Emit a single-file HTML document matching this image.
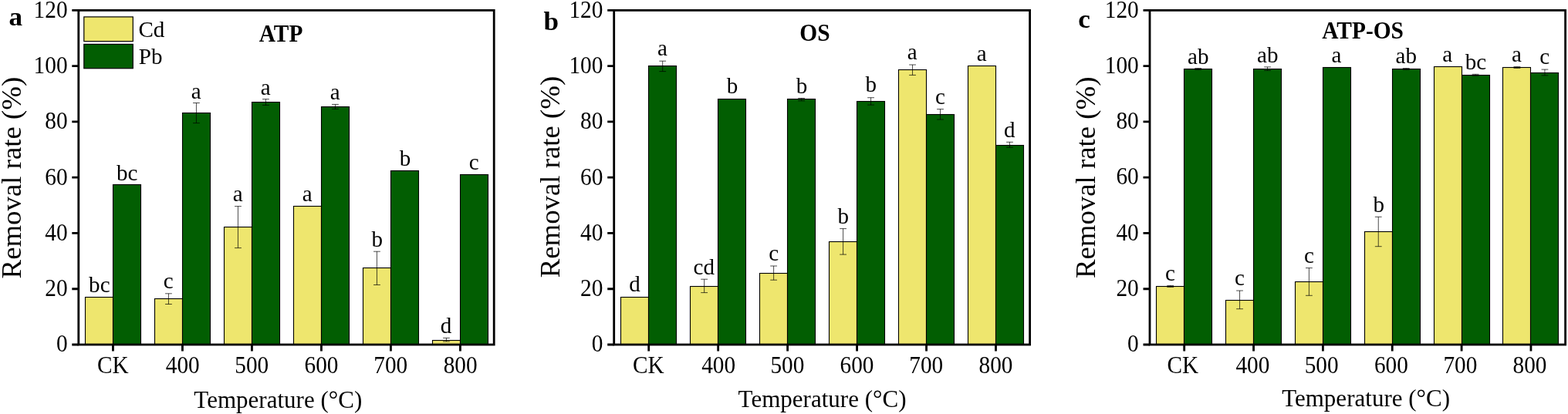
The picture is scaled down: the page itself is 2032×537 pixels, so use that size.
<!DOCTYPE html><html><head><meta charset="utf-8"><title>Removal rate of Cd and Pb</title><style>html,body{margin:0;padding:0;background:#fff;overflow:hidden;}svg{display:block;}text{font-family:'Liberation Serif','Times New Roman',serif;fill:#000;}</style></head><body>
<svg width="2032" height="537" viewBox="0 0 2032 537">
<rect x="0" y="0" width="2032" height="537" fill="#fff"/>
<g><rect x="110.5" y="385.5" width="36" height="61.5" fill="#EEE66E" stroke="#000" stroke-width="1.1"/><rect x="146.5" y="239.5" width="36" height="207.5" fill="#025E02" stroke="#000" stroke-width="1.1"/><rect x="200.5" y="387.5" width="36" height="59.5" fill="#EEE66E" stroke="#000" stroke-width="1.1"/><rect x="236.5" y="146.5" width="36" height="300.5" fill="#025E02" stroke="#000" stroke-width="1.1"/><rect x="290.5" y="294.5" width="36" height="152.5" fill="#EEE66E" stroke="#000" stroke-width="1.1"/><rect x="326.5" y="132.5" width="36" height="314.5" fill="#025E02" stroke="#000" stroke-width="1.1"/><rect x="380.5" y="267.5" width="36" height="179.5" fill="#EEE66E" stroke="#000" stroke-width="1.1"/><rect x="416.5" y="138.5" width="36" height="308.5" fill="#025E02" stroke="#000" stroke-width="1.1"/><rect x="470.5" y="347.5" width="36" height="99.5" fill="#EEE66E" stroke="#000" stroke-width="1.1"/><rect x="506.5" y="221.5" width="36" height="225.5" fill="#025E02" stroke="#000" stroke-width="1.1"/><rect x="560.5" y="441.5" width="36" height="5.5" fill="#EEE66E" stroke="#000" stroke-width="1.1"/><rect x="596.5" y="226.5" width="36" height="220.5" fill="#025E02" stroke="#000" stroke-width="1.1"/><path d="M218.45 380.8V394.5M214.05 380.8H222.85M214.05 394.5H222.85" stroke="#000" stroke-width="0.7" fill="none"/><path d="M308.45 267.6V321.6M304.05 267.6H312.85M304.05 321.6H312.85" stroke="#000" stroke-width="0.7" fill="none"/><path d="M488.45 326.2V369.5M484.05 326.2H492.85M484.05 369.5H492.85" stroke="#000" stroke-width="0.7" fill="none"/><path d="M578.45 438.4V443M574.05 438.4H582.85M574.05 443H582.85" stroke="#000" stroke-width="0.7" fill="none"/><path d="M254.45 133.5V159.6M250.05 133.5H258.85M250.05 159.6H258.85" stroke="#000" stroke-width="0.7" fill="none"/><path d="M344.45 128.6V136.4M340.05 128.6H348.85M340.05 136.4H348.85" stroke="#000" stroke-width="0.7" fill="none"/><path d="M434.45 135.4V141.3M430.05 135.4H438.85M430.05 141.3H438.85" stroke="#000" stroke-width="0.7" fill="none"/><rect x="101.8" y="13.4" width="538.4" height="433.6" fill="none" stroke="#000" stroke-width="2.8"/><path d="M93.3 447H101.8M93.3 374.73H101.8M93.3 302.47H101.8M93.3 230.2H101.8M93.3 157.93H101.8M93.3 85.67H101.8M93.3 13.4H101.8M146.45 447V455.4M236.45 447V455.4M326.45 447V455.4M416.45 447V455.4M506.45 447V455.4M596.45 447V455.4" stroke="#000" stroke-width="2.8" fill="none"/></g>
<g><rect x="804.5" y="385.5" width="36" height="61.5" fill="#EEE66E" stroke="#000" stroke-width="1.1"/><rect x="840.5" y="85.5" width="36" height="361.5" fill="#025E02" stroke="#000" stroke-width="1.1"/><rect x="894.5" y="371.5" width="36" height="75.5" fill="#EEE66E" stroke="#000" stroke-width="1.1"/><rect x="930.5" y="128.5" width="36" height="318.5" fill="#025E02" stroke="#000" stroke-width="1.1"/><rect x="984.5" y="354.5" width="36" height="92.5" fill="#EEE66E" stroke="#000" stroke-width="1.1"/><rect x="1020.5" y="128.5" width="36" height="318.5" fill="#025E02" stroke="#000" stroke-width="1.1"/><rect x="1074.5" y="313.5" width="36" height="133.5" fill="#EEE66E" stroke="#000" stroke-width="1.1"/><rect x="1110.5" y="131.5" width="36" height="315.5" fill="#025E02" stroke="#000" stroke-width="1.1"/><rect x="1164.5" y="90.5" width="36" height="356.5" fill="#EEE66E" stroke="#000" stroke-width="1.1"/><rect x="1200.5" y="148.5" width="36" height="298.5" fill="#025E02" stroke="#000" stroke-width="1.1"/><rect x="1254.5" y="85.5" width="36" height="361.5" fill="#EEE66E" stroke="#000" stroke-width="1.1"/><rect x="1290.5" y="188.5" width="36" height="258.5" fill="#025E02" stroke="#000" stroke-width="1.1"/><path d="M912.66 362.2V379.6M908.26 362.2H917.06M908.26 379.6H917.06" stroke="#000" stroke-width="0.7" fill="none"/><path d="M1002.62 345V363.2M998.22 345H1007.02M998.22 363.2H1007.02" stroke="#000" stroke-width="0.7" fill="none"/><path d="M1092.58 296.6V330.1M1088.18 296.6H1096.98M1088.18 330.1H1096.98" stroke="#000" stroke-width="0.7" fill="none"/><path d="M1182.54 84V97.4M1178.14 84H1186.94M1178.14 97.4H1186.94" stroke="#000" stroke-width="0.7" fill="none"/><path d="M858.7 79.2V92.6M854.3 79.2H863.1M854.3 92.6H863.1" stroke="#000" stroke-width="0.7" fill="none"/><path d="M1038.62 127.4V130.8M1034.22 127.4H1043.02M1034.22 130.8H1043.02" stroke="#000" stroke-width="0.7" fill="none"/><path d="M1128.58 126.7V136.1M1124.18 126.7H1132.98M1124.18 136.1H1132.98" stroke="#000" stroke-width="0.7" fill="none"/><path d="M1218.54 141.6V155M1214.14 141.6H1222.94M1214.14 155H1222.94" stroke="#000" stroke-width="0.7" fill="none"/><path d="M1308.5 184.3V191.2M1304.1 184.3H1312.9M1304.1 191.2H1312.9" stroke="#000" stroke-width="0.7" fill="none"/><rect x="795.7" y="13.4" width="538.9" height="433.6" fill="none" stroke="#000" stroke-width="2.8"/><path d="M787.2 447H795.7M787.2 374.73H795.7M787.2 302.47H795.7M787.2 230.2H795.7M787.2 157.93H795.7M787.2 85.67H795.7M787.2 13.4H795.7M840.7 447V455.4M930.66 447V455.4M1020.62 447V455.4M1110.58 447V455.4M1200.54 447V455.4M1290.5 447V455.4" stroke="#000" stroke-width="2.8" fill="none"/></g>
<g><rect x="1498.5" y="371.5" width="36" height="75.5" fill="#EEE66E" stroke="#000" stroke-width="1.1"/><rect x="1534.5" y="89.5" width="36" height="357.5" fill="#025E02" stroke="#000" stroke-width="1.1"/><rect x="1588.5" y="389.5" width="36" height="57.5" fill="#EEE66E" stroke="#000" stroke-width="1.1"/><rect x="1624.5" y="89.5" width="36" height="357.5" fill="#025E02" stroke="#000" stroke-width="1.1"/><rect x="1678.5" y="365.5" width="36" height="81.5" fill="#EEE66E" stroke="#000" stroke-width="1.1"/><rect x="1714.5" y="87.5" width="36" height="359.5" fill="#025E02" stroke="#000" stroke-width="1.1"/><rect x="1768.5" y="300.5" width="36" height="146.5" fill="#EEE66E" stroke="#000" stroke-width="1.1"/><rect x="1804.5" y="89.5" width="36" height="357.5" fill="#025E02" stroke="#000" stroke-width="1.1"/><rect x="1858.5" y="86.5" width="36" height="360.5" fill="#EEE66E" stroke="#000" stroke-width="1.1"/><rect x="1894.5" y="97.5" width="36" height="349.5" fill="#025E02" stroke="#000" stroke-width="1.1"/><rect x="1947.5" y="87.5" width="36" height="359.5" fill="#EEE66E" stroke="#000" stroke-width="1.1"/><rect x="1983.5" y="94.5" width="36" height="352.5" fill="#025E02" stroke="#000" stroke-width="1.1"/><path d="M1516.7 370.4V372.4M1512.3 370.4H1521.1M1512.3 372.4H1521.1" stroke="#000" stroke-width="0.7" fill="none"/><path d="M1606.55 377V400.7M1602.15 377H1610.95M1602.15 400.7H1610.95" stroke="#000" stroke-width="0.7" fill="none"/><path d="M1696.4 347.6V383.3M1692 347.6H1700.8M1692 383.3H1700.8" stroke="#000" stroke-width="0.7" fill="none"/><path d="M1786.25 281.3V319.7M1781.85 281.3H1790.65M1781.85 319.7H1790.65" stroke="#000" stroke-width="0.7" fill="none"/><path d="M1965.95 86.6V88.4M1961.55 86.6H1970.35M1961.55 88.4H1970.35" stroke="#000" stroke-width="0.7" fill="none"/><path d="M1552.7 88.6V90.4M1548.3 88.6H1557.1M1548.3 90.4H1557.1" stroke="#000" stroke-width="0.7" fill="none"/><path d="M1642.55 86.9V91.5M1638.15 86.9H1646.95M1638.15 91.5H1646.95" stroke="#000" stroke-width="0.7" fill="none"/><path d="M1822.25 88.6V90.4M1817.85 88.6H1826.65M1817.85 90.4H1826.65" stroke="#000" stroke-width="0.7" fill="none"/><path d="M1912.1 96.3V98.1M1907.7 96.3H1916.5M1907.7 98.1H1916.5" stroke="#000" stroke-width="0.7" fill="none"/><path d="M2001.95 90.1V97.8M1997.55 90.1H2006.35M1997.55 97.8H2006.35" stroke="#000" stroke-width="0.7" fill="none"/><rect x="1490" y="13.4" width="538.6" height="433.6" fill="none" stroke="#000" stroke-width="2.8"/><path d="M1481.5 447H1490M1481.5 374.73H1490M1481.5 302.47H1490M1481.5 230.2H1490M1481.5 157.93H1490M1481.5 85.67H1490M1481.5 13.4H1490M1534.7 447V455.4M1624.55 447V455.4M1714.4 447V455.4M1804.25 447V455.4M1894.1 447V455.4M1983.95 447V455.4" stroke="#000" stroke-width="2.8" fill="none"/></g>
<rect x="108.8" y="21.9" width="63.5" height="31.7" fill="#EEE66E" stroke="#000" stroke-width="1.2"/>
<rect x="108.8" y="57.4" width="63.5" height="31.3" fill="#025E02" stroke="#000" stroke-width="1.2"/>
<g><text transform="translate(87.65 456) scale(0.9600 1)" font-size="30.6" text-anchor="end">0</text><text transform="translate(87.65 384) scale(0.9600 1)" font-size="30.6" text-anchor="end">20</text><text transform="translate(87.65 312) scale(0.9600 1)" font-size="30.6" text-anchor="end">40</text><text transform="translate(87.65 240) scale(0.9600 1)" font-size="30.6" text-anchor="end">60</text><text transform="translate(87.65 167) scale(0.9600 1)" font-size="30.6" text-anchor="end">80</text><text transform="translate(87.65 95) scale(0.9600 1)" font-size="30.6" text-anchor="end">100</text><text transform="translate(87.65 23) scale(0.9600 1)" font-size="30.6" text-anchor="end">120</text><text transform="translate(781.48 456) scale(0.9600 1)" font-size="30.6" text-anchor="end">0</text><text transform="translate(781.48 384) scale(0.9600 1)" font-size="30.6" text-anchor="end">20</text><text transform="translate(781.48 312) scale(0.9600 1)" font-size="30.6" text-anchor="end">40</text><text transform="translate(781.48 240) scale(0.9600 1)" font-size="30.6" text-anchor="end">60</text><text transform="translate(781.48 167) scale(0.9600 1)" font-size="30.6" text-anchor="end">80</text><text transform="translate(781.48 95) scale(0.9600 1)" font-size="30.6" text-anchor="end">100</text><text transform="translate(781.48 23) scale(0.9600 1)" font-size="30.6" text-anchor="end">120</text><text transform="translate(1475.77 456) scale(0.9600 1)" font-size="30.6" text-anchor="end">0</text><text transform="translate(1475.77 384) scale(0.9600 1)" font-size="30.6" text-anchor="end">20</text><text transform="translate(1475.77 312) scale(0.9600 1)" font-size="30.6" text-anchor="end">40</text><text transform="translate(1475.77 239) scale(0.9600 1)" font-size="30.6" text-anchor="end">60</text><text transform="translate(1475.77 167) scale(0.9600 1)" font-size="30.6" text-anchor="end">80</text><text transform="translate(1475.77 95) scale(0.9600 1)" font-size="30.6" text-anchor="end">100</text><text transform="translate(1475.77 23) scale(0.9600 1)" font-size="30.6" text-anchor="end">120</text><text transform="translate(146.28 484) scale(0.9600 1)" font-size="30.5" text-anchor="middle">CK</text><text transform="translate(236.8 484) scale(0.9600 1)" font-size="30.5" text-anchor="middle">400</text><text transform="translate(326.19 484) scale(0.9600 1)" font-size="30.5" text-anchor="middle">500</text><text transform="translate(416.48 484) scale(0.9600 1)" font-size="30.5" text-anchor="middle">600</text><text transform="translate(506.25 484) scale(0.9600 1)" font-size="30.5" text-anchor="middle">700</text><text transform="translate(596.65 484) scale(0.9600 1)" font-size="30.5" text-anchor="middle">800</text><text transform="translate(840.29 484) scale(0.9600 1)" font-size="30.5" text-anchor="middle">CK</text><text transform="translate(931.08 484) scale(0.9600 1)" font-size="30.5" text-anchor="middle">400</text><text transform="translate(1020.33 484) scale(0.9600 1)" font-size="30.5" text-anchor="middle">500</text><text transform="translate(1110.53 484) scale(0.9600 1)" font-size="30.5" text-anchor="middle">600</text><text transform="translate(1200.3 484) scale(0.9600 1)" font-size="30.5" text-anchor="middle">700</text><text transform="translate(1290.48 484) scale(0.9600 1)" font-size="30.5" text-anchor="middle">800</text><text transform="translate(1532.9 484) scale(0.9600 1)" font-size="30.5" text-anchor="middle">CK</text><text transform="translate(1623.37 484) scale(0.9600 1)" font-size="30.5" text-anchor="middle">400</text><text transform="translate(1712.64 484) scale(0.9600 1)" font-size="30.5" text-anchor="middle">500</text><text transform="translate(1802.84 484) scale(0.9600 1)" font-size="30.5" text-anchor="middle">600</text><text transform="translate(1892.33 484) scale(0.9600 1)" font-size="30.5" text-anchor="middle">700</text><text transform="translate(1982.53 484) scale(0.9600 1)" font-size="30.5" text-anchor="middle">800</text><text transform="translate(128.82 379) scale(0.9600 1)" font-size="30.3" text-anchor="middle">bc</text><text transform="translate(218.28 374) scale(0.9600 1)" font-size="30.3" text-anchor="middle">c</text><text transform="translate(308.1 261) scale(0.9600 1)" font-size="30.3" text-anchor="middle">a</text><text transform="translate(398.29 261) scale(0.9600 1)" font-size="30.3" text-anchor="middle">a</text><text transform="translate(488.71 320) scale(0.9600 1)" font-size="30.3" text-anchor="middle">b</text><text transform="translate(578.12 432) scale(0.9600 1)" font-size="30.3" text-anchor="middle">d</text><text transform="translate(164.76 234) scale(0.9600 1)" font-size="30.3" text-anchor="middle">bc</text><text transform="translate(254.3 128) scale(0.9600 1)" font-size="30.3" text-anchor="middle">a</text><text transform="translate(344.27 123) scale(0.9600 1)" font-size="30.3" text-anchor="middle">a</text><text transform="translate(434.09 129) scale(0.9600 1)" font-size="30.3" text-anchor="middle">a</text><text transform="translate(525 215) scale(0.9600 1)" font-size="30.3" text-anchor="middle">b</text><text transform="translate(614.29 220) scale(0.9600 1)" font-size="30.3" text-anchor="middle">c</text><text transform="translate(822.52 378) scale(0.9600 1)" font-size="30.3" text-anchor="middle">d</text><text transform="translate(912.31 356) scale(0.9600 1)" font-size="30.3" text-anchor="middle">cd</text><text transform="translate(1002.6 338) scale(0.9600 1)" font-size="30.3" text-anchor="middle">c</text><text transform="translate(1092.86 290) scale(0.9600 1)" font-size="30.3" text-anchor="middle">b</text><text transform="translate(1182.23 77) scale(0.9600 1)" font-size="30.3" text-anchor="middle">a</text><text transform="translate(1272.21 79) scale(0.9600 1)" font-size="30.3" text-anchor="middle">a</text><text transform="translate(858.34 72) scale(0.9600 1)" font-size="30.3" text-anchor="middle">a</text><text transform="translate(949.03 121) scale(0.9600 1)" font-size="30.3" text-anchor="middle">b</text><text transform="translate(1039.01 121) scale(0.9600 1)" font-size="30.3" text-anchor="middle">b</text><text transform="translate(1128.83 119) scale(0.9600 1)" font-size="30.3" text-anchor="middle">b</text><text transform="translate(1218.47 135) scale(0.9600 1)" font-size="30.3" text-anchor="middle">c</text><text transform="translate(1308.28 178) scale(0.9600 1)" font-size="30.3" text-anchor="middle">d</text><text transform="translate(1516.55 364) scale(0.9600 1)" font-size="30.3" text-anchor="middle">c</text><text transform="translate(1606.57 370) scale(0.9600 1)" font-size="30.3" text-anchor="middle">c</text><text transform="translate(1696.38 341) scale(0.9600 1)" font-size="30.3" text-anchor="middle">c</text><text transform="translate(1786.78 275) scale(0.9600 1)" font-size="30.3" text-anchor="middle">b</text><text transform="translate(1875.74 80) scale(0.9600 1)" font-size="30.3" text-anchor="middle">a</text><text transform="translate(1965.58 80) scale(0.9600 1)" font-size="30.3" text-anchor="middle">a</text><text transform="translate(1552.83 83) scale(0.9600 1)" font-size="30.3" text-anchor="middle">ab</text><text transform="translate(1642.71 81) scale(0.9600 1)" font-size="30.3" text-anchor="middle">ab</text><text transform="translate(1732.01 81) scale(0.9600 1)" font-size="30.3" text-anchor="middle">a</text><text transform="translate(1822.3 82) scale(0.9600 1)" font-size="30.3" text-anchor="middle">ab</text><text transform="translate(1912.56 90) scale(0.9600 1)" font-size="30.3" text-anchor="middle">bc</text><text transform="translate(2001.79 83) scale(0.9600 1)" font-size="30.3" text-anchor="middle">c</text><text transform="translate(364.12 54) scale(0.9400 1)" font-size="31.3" font-weight="bold" text-anchor="middle">ATP</text><text transform="translate(1055.95 53) scale(0.9400 1)" font-size="31.3" font-weight="bold" text-anchor="middle">OS</text><text transform="translate(1766.09 50) scale(0.9400 1)" font-size="31.3" font-weight="bold" text-anchor="middle">ATP-OS</text><text transform="translate(20.32 33) scale(1.0200 1)" font-size="34.5" font-weight="bold" text-anchor="middle">a</text><text transform="translate(714.16 39) scale(1.0200 1)" font-size="34.5" font-weight="bold" text-anchor="middle">b</text><text transform="translate(1405.15 36) scale(1.0200 1)" font-size="34.5" font-weight="bold" text-anchor="middle">c</text><text transform="translate(27.4 230.61) rotate(-90)" font-size="36.8" text-anchor="middle">Removal rate (%)</text><text transform="translate(724.93 229.53) rotate(-90)" font-size="36.8" text-anchor="middle">Removal rate (%)</text><text transform="translate(1418.86 230.29) rotate(-90)" font-size="36.8" text-anchor="middle">Removal rate (%)</text><text transform="translate(360.31 528.6) scale(0.9700 1)" font-size="32" text-anchor="middle">Temperature (°C)</text><text transform="translate(1065.56 527.9) scale(0.9700 1)" font-size="32" text-anchor="middle">Temperature (°C)</text><text transform="translate(1770.1 527.1) scale(0.9700 1)" font-size="32" text-anchor="middle">Temperature (°C)</text><text transform="translate(179.38 48) scale(0.9700 1)" font-size="30">Cd</text><text transform="translate(179.76 83) scale(0.9700 1)" font-size="30">Pb</text></g>
</svg></body></html>
